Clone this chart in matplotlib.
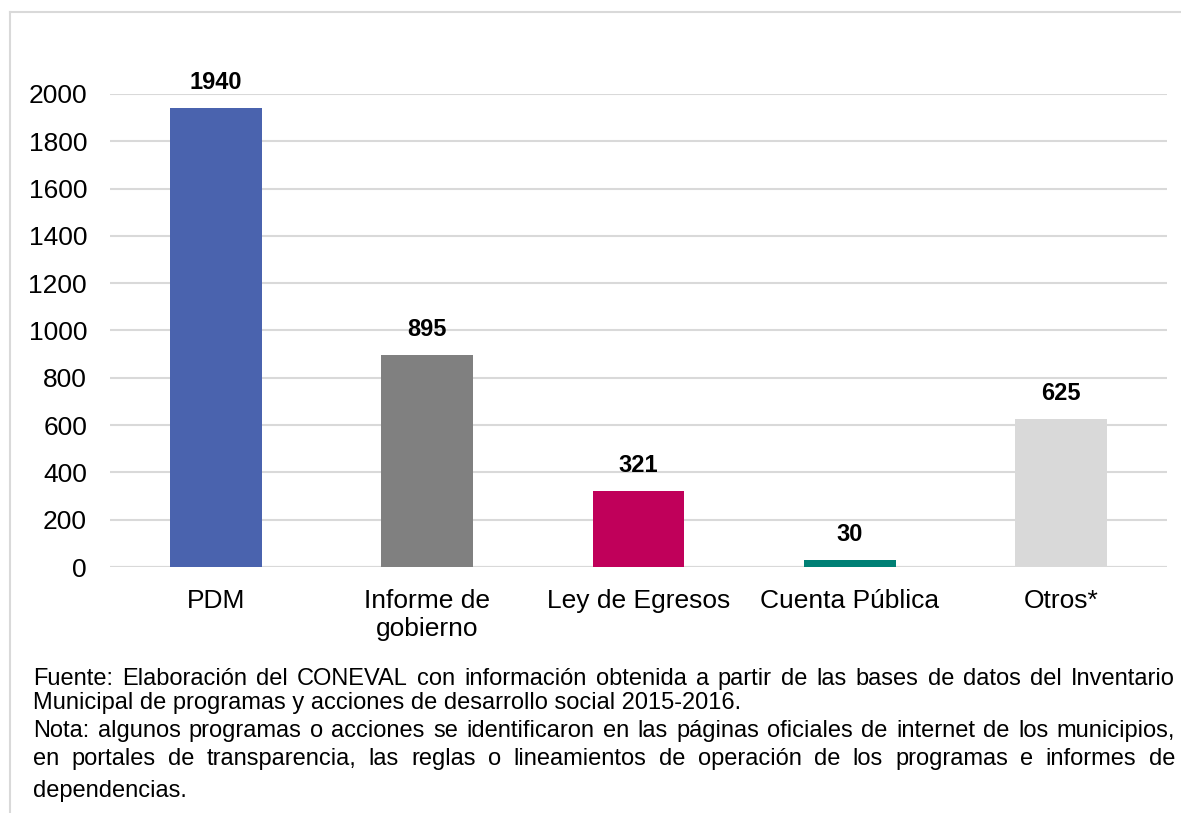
import matplotlib
matplotlib.use("Agg")
import matplotlib.pyplot as plt
from matplotlib.lines import Line2D

categories = ["PDM", "Informe de\ngobierno", "Ley de Egresos", "Cuenta Pública", "Otros*"]
values = [1940, 895, 321, 30, 625]
colors = ["#4A63AE", "#808080", "#C0005A", "#008075", "#D9D9D9"]
yticks = [0, 200, 400, 600, 800, 1000, 1200, 1400, 1600, 1800, 2000]

# footnote lines: (text, justified?)
notes = [
    ("Fuente: Elaboración del CONEVAL con información obtenida a partir de las bases de datos del Inventario", True),
    ("Municipal de programas y acciones de desarrollo social 2015-2016.", False),
    ("Nota: algunos programas o acciones se identificaron en las páginas oficiales de internet de los municipios,", True),
    ("en portales de transparencia, las reglas o lineamientos de operación de los programas e informes de", True),
    ("dependencias.", False),
]
note_y = [679, 703, 731, 759, 791]

plt.rcParams['font.family'] = ['Liberation Sans', 'DejaVu Sans']

W, H = 1181, 813
fig = plt.figure(figsize=(W/100, H/100), dpi=100)
ax = fig.add_axes([110/W, 1-567/H, 1057/W, (567-94)/H])

x = range(len(values))
ax.bar(x, values, width=0.435, color=colors, zorder=3)
ax.set_xlim(-0.5, 4.5)
ax.set_ylim(0, 2000)
ax.set_yticks(yticks)
ax.set_xticks(list(x))
ax.set_xticklabels(categories, fontsize=19, linespacing=1.22)
ax.tick_params(axis='y', labelsize=19, length=0, pad=16.5)
ax.tick_params(axis='x', length=0, pad=16)
ax.grid(axis='y', color='#D9D9D9', lw=1.5, zorder=0)
ax.set_axisbelow(True)
for s in ax.spines.values():
    s.set_visible(False)
ax.axhline(0, color='#D9D9D9', lw=1.5, zorder=1)
for i, v in enumerate(values):
    ax.annotate(str(v), (i, v), xytext=(0, 18.5), textcoords='offset points',
                ha='center', va='center', fontsize=17, fontweight='bold')

# outer frame (top and left edges)
fig.add_artist(Line2D([10/W, 1.0], [1-12/H, 1-12/H], color='#D9D9D9', lw=1.5))
fig.add_artist(Line2D([10/W, 10/W], [0, 1-12/H], color='#D9D9D9', lw=1.5))

# footnotes with manual justification
renderer = fig.canvas.get_renderer()
x0, x1 = 33, 1175
fs = 17
for (line, just), yp in zip(notes, note_y):
    yf = 1 - yp/H
    if not just:
        fig.text(x0/W, yf, line, fontsize=fs, va='center', ha='left')
        continue
    words = line.split(' ')
    arts = [fig.text(0, yf, w, fontsize=fs, va='center', ha='left') for w in words]
    widths = [a.get_window_extent(renderer).width for a in arts]
    gap = (x1 - x0 - sum(widths)) / (len(words) - 1)
    pos = x0
    for a, w in zip(arts, widths):
        a.set_x(pos/W)
        pos += w + gap

fig.savefig("out.png", dpi=100)
